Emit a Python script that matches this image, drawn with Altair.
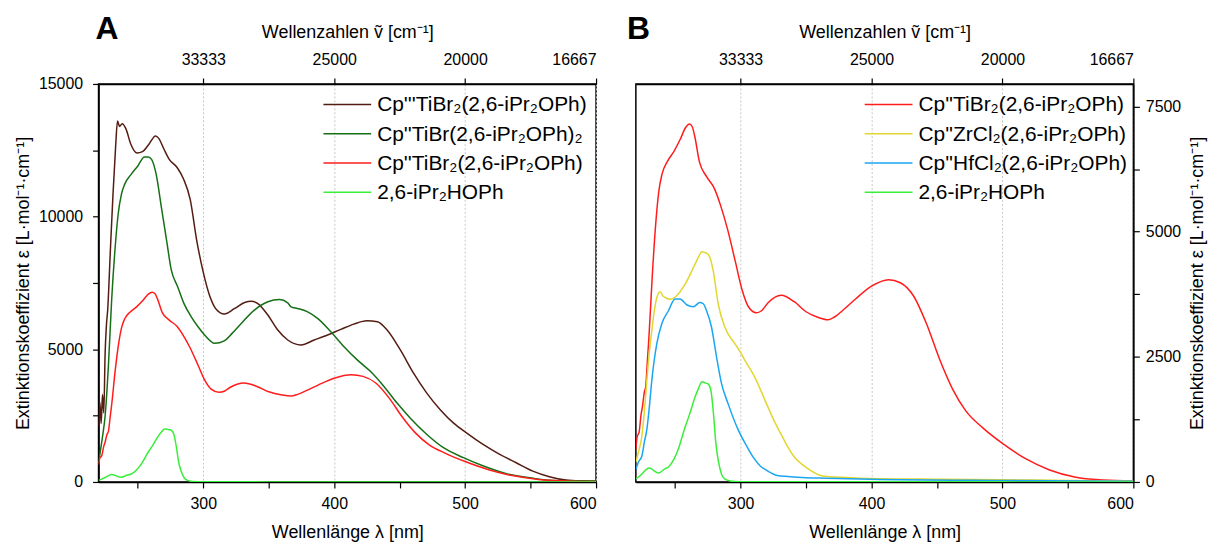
import altair as alt
import pandas as pd

FONT = "Liberation Sans"

# ---------------- data ----------------
brown_nm = [220, 221, 222, 223, 224, 225, 226, 227, 229, 231, 233, 234.5, 236, 238, 241, 244.5, 249.5, 253.5,
            258.5, 263.5, 266, 270, 274, 280, 285, 290, 295, 300, 305, 310, 316, 324, 331.6, 336.6, 341.7,
            349.3, 356.9, 364.5, 374.6, 384.7, 394.9, 405, 415, 425, 433, 440.4, 450.5, 460.6, 470.7, 481,
            491, 501, 513.7, 526.4, 539, 551.7, 564.3, 577, 590, 600]
brown_eps = [2100, 3000, 2200, 3300, 2600, 4800, 5900, 6500, 8700, 10800, 12600, 13600, 13400, 13500, 13300,
             12750, 12400, 12450, 12730, 13040, 12950, 12540, 12160, 11850, 11410, 10650, 9100, 7900, 7000,
             6500, 6330, 6540, 6765, 6810, 6725, 6290, 5725, 5350, 5165, 5350, 5540, 5750, 5950, 6075, 6040,
             5725, 4975, 4100, 3350, 2725, 2225, 1850, 1415, 1040, 725, 410, 200, 75, 40, 30]

dgreen_nm = [220, 221.5, 223, 225, 227.5, 230, 232.5, 235, 237.5, 240, 245, 250, 255, 258, 260.5, 264, 268,
             272, 275.5, 280.5, 285, 290.8, 296, 301, 308.7, 316, 322, 329, 339, 349.3, 358.2, 364.5, 367,
             372, 379.7, 387.3, 397.4, 407.5, 417.6, 427.8, 438, 448, 458, 470.8, 483.5, 498.7, 514, 531.6,
             552, 567, 585, 600]
dgreen_eps = [700, 1200, 1700, 2475, 4350, 6850, 8725, 10100, 10850, 11225, 11600, 11910, 12250, 12250, 12160,
              11600, 10350, 9100, 8000, 7350, 6750, 6225, 5850, 5540, 5225, 5320, 5600, 5975, 6475, 6790,
              6875, 6750, 6600, 6540, 6410, 6165, 5665, 5100, 4600, 4160, 3600, 2975, 2415, 1790, 1290, 915,
              600, 315, 140, 60, 45, 40]

red_nm = [220, 221, 222.5, 224, 225, 226.5, 227.5, 229, 230, 232.5, 235, 237.5, 240, 244, 249, 254, 258, 261,
          263, 265, 268.5, 274, 280, 285, 290, 296, 301, 306, 312, 316, 321, 331, 341, 350, 360, 367, 372,
          379, 388, 400, 413, 422, 432, 442, 452, 462, 472, 485, 500, 518, 536, 556, 577, 600]
red_eps = [650, 900, 1000, 1350, 1500, 1800, 1900, 2500, 2900, 4100, 5100, 5800, 6150, 6400, 6600, 6850, 7080,
           7150, 7100, 6900, 6400, 6100, 5860, 5500, 5050, 4400, 3850, 3500, 3380, 3420, 3580, 3730, 3600,
           3400, 3280, 3240, 3300, 3450, 3660, 3910, 4040, 3980, 3720, 3160, 2450, 1850, 1420, 1080, 770,
           460, 240, 95, 40, 20]

lgreen_nm = [220, 222, 225, 228, 230, 232, 234, 237.5, 242, 245, 249, 253, 257, 261, 265, 268, 270.5, 273,
             275.5, 277.5, 279.5, 281, 283, 285.5, 288, 292, 300, 400, 500, 600]
lgreen_eps = [60, 100, 170, 250, 280, 260, 220, 180, 260, 300, 450, 700, 1050, 1350, 1680, 1880, 2000, 1980,
              1950, 1800, 1300, 800, 420, 150, 60, 20, 5, 3, 2, 0]

yellow_nm = [220, 222, 224.6, 226.5, 228.4, 230.3, 232.2, 234, 236, 238.6, 240.5, 242.4, 246.2, 251.2, 257.6,
             263.9, 268, 270.2, 273, 275.3, 277, 279.1, 282.9, 288, 295.6, 300.5, 303.2, 310.7, 320, 326,
             331, 336, 341, 348, 354, 361, 366.4, 380, 400, 450, 500, 550, 600]
yellow_eps = [400, 600, 915, 1400, 2035, 2600, 3025, 3400, 3685, 3800, 3720, 3685, 3650, 3720, 3950, 4280,
              4500, 4600, 4580, 4545, 4450, 4215, 3555, 3090, 2765, 2565, 2435, 2100, 1550, 1200, 950, 700,
              500, 330, 220, 130, 110, 90, 70, 55, 45, 30, 20]

blue_nm = [220, 222, 224.6, 226.5, 228.4, 230.3, 232.2, 236, 239.8, 244.9, 249.9, 253.7, 258.8, 263.9, 268.9,
           271.5, 274, 277.8, 281.6, 285.4, 290.5, 298, 305, 310, 315, 320, 328, 336, 350, 366, 400, 500, 600]
blue_eps = [250, 400, 520, 800, 1050, 1500, 2035, 2765, 3160, 3420, 3655, 3655, 3540, 3500, 3585, 3560, 3420,
            3090, 2500, 1970, 1560, 1050, 700, 480, 320, 230, 130, 110, 85, 75, 55, 30, 15]

names_a = ["Cp'''TiBr₂(2,6-iPr₂OPh)", "Cp''TiBr(2,6-iPr₂OPh)₂", "Cp''TiBr₂(2,6-iPr₂OPh)", "2,6-iPr₂HOPh"]
colors_a = ["#541c12", "#167016", "#ff1c1c", "#3aee3a"]
names_b = ["Cp''TiBr₂(2,6-iPr₂OPh)", "Cp''ZrCl₂(2,6-iPr₂OPh)", "Cp''HfCl₂(2,6-iPr₂OPh)", "2,6-iPr₂HOPh"]
colors_b = ["#ff1c1c", "#e2d630", "#1aa6f2", "#3aee3a"]

x_domain = [220, 600]
bottom_ticks = [250, 300, 350, 400, 450, 500, 550, 600]
top_ticks = [300, 400, 500, 600]
ya_ticks = [0, 2500, 5000, 7500, 10000, 12500, 15000]
yb_ticks = [0, 1250, 2500, 3750, 5000, 6250, 7500]
ya_max = 15000
yb_max = 7950
panel_letters = ["A", "B"]

Y_TITLE = "Extinktionskoeffizient ε [L·mol⁻¹·cm⁻¹]"


def long_df(names, series):
    rows = []
    for name, (nm, eps) in zip(names, series):
        for a, b in zip(nm, eps):
            rows.append({"lam": a, "eps": b, "series": name})
    return pd.DataFrame(rows)


df_a = long_df(names_a, [(brown_nm, brown_eps), (dgreen_nm, dgreen_eps), (red_nm, red_eps),
                         (lgreen_nm, lgreen_eps)])
df_b = long_df(names_b, [(red_nm, red_eps), (yellow_nm, yellow_eps), (blue_nm, blue_eps),
                         (lgreen_nm, lgreen_eps)])


def legend_layers(names, colors, lx):
    layers = []
    for i, (name, col) in enumerate(zip(names, colors)):
        yy = 20.6 + i * 29.4
        src = pd.DataFrame({"s": [name]})
        layers.append(alt.Chart(src).mark_rule(color=col, strokeWidth=1.5).encode(
            x=alt.value(lx), x2=alt.value(lx + 48), y=alt.value(yy)))
        layers.append(alt.Chart(src).mark_text(
            align="left", baseline="middle", fontSize=21, font=FONT, color="black", dy=1
        ).encode(x=alt.value(lx + 54), y=alt.value(yy), text="s:N"))
    return layers


def panel(df, names, colors, ymax, yticks, ystep, yorient, legend_x, letter, letter_x):
    xs = alt.Scale(domain=x_domain, nice=False, zero=False)
    ys = alt.Scale(domain=[0, ymax], nice=False)
    top = alt.Chart(pd.DataFrame({"lam": top_ticks})).mark_rule(opacity=0).encode(
        x=alt.X("lam:Q", scale=xs, axis=alt.Axis(
            orient="top", values=top_ticks, title="Wellenzahlen ṽ [cm⁻¹]",
            labelExpr="format(10000000/datum.value, 'd')", grid=True, gridDash=[2, 2],
            gridColor="#c8c8c8", gridWidth=1, labelPadding=11, titlePadding=10))
    )
    yaxis = alt.Axis(orient=yorient, values=yticks, format="d", title=Y_TITLE,
                     labelExpr=f"datum.value % {ystep} == 0 ? datum.label : ''",
                     grid=False, titleAngle=270, labelPadding=10 if yorient == "left" else 6,
                     titlePadding=6 if yorient == "left" else 26)
    lines = alt.Chart(df).mark_line(strokeWidth=1.5, clip=True, interpolate="monotone").encode(
        x=alt.X("lam:Q", scale=xs, axis=alt.Axis(
            orient="bottom", values=bottom_ticks, format="d", title="Wellenlänge λ [nm]",
            labelExpr="datum.value % 100 == 0 ? datum.label : ''", grid=False,
            labelPadding=8, titlePadding=12)),
        y=alt.Y("eps:Q", scale=ys, axis=yaxis),
        color=alt.Color("series:N", sort=names, scale=alt.Scale(domain=names, range=colors),
                        legend=None),
    )
    txt = alt.Chart(pd.DataFrame({"t": [letter]})).mark_text(
        fontSize=32, fontWeight="bold", align="left", baseline="alphabetic", font=FONT, color="black"
    ).encode(x=alt.value(letter_x), y=alt.value(-45), text="t:N")
    return alt.layer(top, lines, txt, *legend_layers(names, colors, legend_x)).resolve_axis(
        x="independent").properties(width=500, height=400)


pa = panel(df_a, names_a, colors_a, ya_max, ya_ticks, 5000, "left", 226, panel_letters[0], -3)
pb = panel(df_b, names_b, colors_b, yb_max, yb_ticks, 2500, "right", 230, panel_letters[1], -9)

chart = alt.hconcat(pa, pb, spacing=40, bounds="flush").resolve_scale(color="independent").properties(
    padding={"left": 5, "top": 3, "right": 0, "bottom": 0}
).configure(font=FONT).configure_view(stroke="black", strokeWidth=1.5).configure_axis(
    domainColor="black", domainWidth=1.5, tickColor="black", tickWidth=1.2, tickSize=6,
    labelColor="black", titleColor="black", labelFontSize=16, titleFontSize=18,
    titleFontWeight="normal", labelFont=FONT, titleFont=FONT
)

chart.save("out.html", embed_options={"renderer": "svg", "actions": False})
